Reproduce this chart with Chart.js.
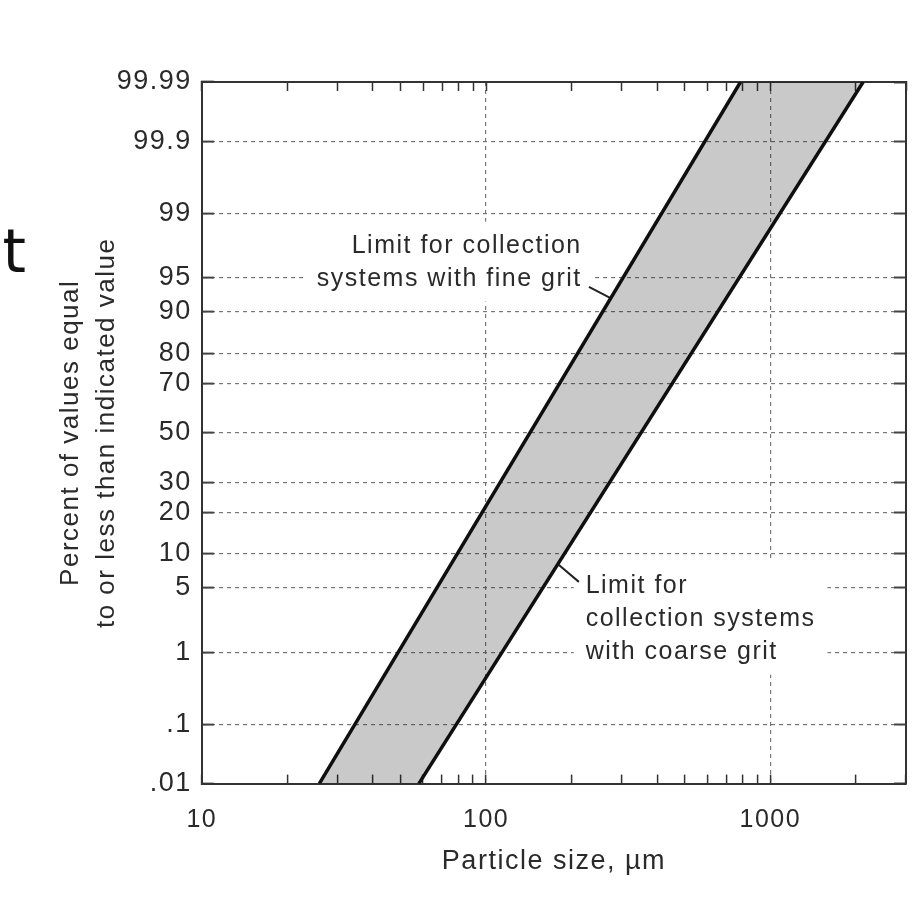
<!DOCTYPE html>
<html>
<head>
<meta charset="utf-8">
<style>
  body { margin: 0; background: #fff; }
  #wrap { position: relative; width: 914px; height: 904px; overflow: hidden; }
  #cut { position: absolute; right: 888px; top: 221px; font: 60px "DejaVu Sans"; line-height: 60px; white-space: nowrap; color: #111; }
</style>
</head>
<body>
<div id="wrap">
  <canvas id="gritChart" width="914" height="904"></canvas>
  <div id="cut">nt</div>
</div>

<script src="https://cdn.jsdelivr.net/npm/chart.js"></script>

<script>
  // particle size (um) at the chart's bottom and top percent
  const fineSize = [25.9, 785];
  const finePct = [0.01, 99.99];
  const coarseSize = [58, 2120];
  const coarsePct = [0.01, 99.99];

  // short leader lines from the labels to the two limits
  const fineLeaderSize = [230, 272];
  const fineLeaderPct = [93.9, 92.4];
  const coarseLeaderSize = [212, 180];
  const coarseLeaderPct = [5.7, 8.1];

  const pctTicks = [0.01, 0.1, 1, 5, 10, 20, 30, 50, 70, 80, 90, 95, 99, 99.9, 99.99];
  const pctLabels = ['.01', '.1', '1', '5', '10', '20', '30', '50', '70', '80', '90', '95', '99', '99.9', '99.99'];
  const sizeTicks = [10, 20, 30, 40, 50, 60, 70, 80, 90, 100, 200, 300, 400, 500, 600, 700, 800, 900, 1000, 2000, 3000];
  const sizeLabeled = [10, 100, 1000];

  const fineNote = ['Limit for collection', 'systems with fine grit'];
  const coarseNote = ['Limit for', 'collection systems', 'with coarse grit'];

  // inverse normal CDF (Acklam), used only to space the probability axis
  function probit(p) {
    const a = [-3.969683028665376e+01, 2.209460984245205e+02, -2.759285104469687e+02, 1.383577518672690e+02, -3.066479806614716e+01, 2.506628277459239e+00];
    const b = [-5.447609879822406e+01, 1.615858368580409e+02, -1.556989798598866e+02, 6.680131188771972e+01, -1.328068155288572e+01];
    const c = [-7.784894002430293e-03, -3.223964580411365e-01, -2.400758277161838e+00, -2.549732539343734e+00, 4.374664141464968e+00, 2.938163982698783e+00];
    const d = [7.784695709041462e-03, 3.224671290700398e-01, 2.445134137142996e+00, 3.754408661907416e+00];
    const pl = 0.02425;
    if (p < pl) {
      const q = Math.sqrt(-2 * Math.log(p));
      return (((((c[0]*q+c[1])*q+c[2])*q+c[3])*q+c[4])*q+c[5]) / ((((d[0]*q+d[1])*q+d[2])*q+d[3])*q+1);
    }
    if (p > 1 - pl) {
      const q = Math.sqrt(-2 * Math.log(1 - p));
      return -(((((c[0]*q+c[1])*q+c[2])*q+c[3])*q+c[4])*q+c[5]) / ((((d[0]*q+d[1])*q+d[2])*q+d[3])*q+1);
    }
    const q = p - 0.5, r = q * q;
    return (((((a[0]*r+a[1])*r+a[2])*r+a[3])*r+a[4])*r+a[5])*q / (((((b[0]*r+b[1])*r+b[2])*r+b[3])*r+b[4])*r+1);
  }

  class ProbabilityScale extends Chart.Scale {
    static id = 'probability';
    static defaults = {};
    determineDataLimits() {
      this.min = this.options.min;
      this.max = this.options.max;
    }
    buildTicks() {
      return pctTicks.map(v => ({ value: v }));
    }
    configure() {
      super.configure();
      this._zMin = probit(this.min / 100);
      this._zMax = probit(this.max / 100);
    }
    getLabelForValue(v) { return String(v); }
    getPixelForValue(v) {
      const z = probit(v / 100);
      return this.getPixelForDecimal((z - this._zMin) / (this._zMax - this._zMin));
    }
    getPixelForTick(i) { return this.getPixelForValue(this.ticks[i].value); }
    getValueForPixel() { return NaN; }
  }
  Chart.register(ProbabilityScale);

  Chart.defaults.font.family = '"Liberation Sans", Arial, sans-serif';
  Chart.defaults.color = '#2a2a2a';

  const pts = (xs, ys) => xs.map((x, i) => ({ x: x, y: ys[i] }));
  const noPad = (scale) => { scale.paddingLeft = 0; scale.paddingRight = 0; };

  // the scanned lettering is a bit wider than Arial
  const spacing = {
    id: 'spacing',
    beforeUpdate(chart) { chart.ctx.letterSpacing = '1.5px'; },
    beforeDraw(chart) { chart.ctx.letterSpacing = '1.5px'; }
  };

  const notes = [
    { lines: fineNote, x: 217, y: 97.2, align: 'right' },
    { lines: coarseNote, x: 224, y: 4.5, align: 'left' }
  ];

  const notePlugin = {
    id: 'notes',
    beforeDatasetsDraw(chart) {
      const ctx = chart.ctx;
      const xs = chart.scales.x, ys = chart.scales.y;
      ctx.save();
      ctx.font = '25px "Liberation Sans", Arial, sans-serif';
      ctx.letterSpacing = '1.5px';
      const lh = 33;
      notes.forEach(n => {
        const px = xs.getPixelForValue(n.x);
        const py = ys.getPixelForValue(n.y);
        const w = Math.max(...n.lines.map(t => ctx.measureText(t).width));
        const left = n.align === 'right' ? px - w : px;
        ctx.fillStyle = '#fff';
        ctx.fillRect(left - 12, py - 31, w + 24, (n.lines.length - 1) * lh + 47);
        ctx.fillStyle = '#2a2a2a';
        ctx.textAlign = n.align;
        ctx.textBaseline = 'alphabetic';
        n.lines.forEach((t, i) => ctx.fillText(t, px, py + i * lh));
      });
      ctx.restore();
    }
  };

  const ctx = document.getElementById('gritChart').getContext('2d');
  new Chart(ctx, {
    type: 'line',
    data: {
      datasets: [
        {
          label: 'band',
          data: pts(fineSize, finePct).concat(pts(coarseSize, coarsePct).reverse()),
          fill: 'shape',
          backgroundColor: 'rgba(0,0,0,0.21)',
          borderWidth: 0,
          pointRadius: 0
        },
        {
          label: 'fine grit',
          data: pts(fineSize, finePct),
          borderColor: '#111',
          borderWidth: 3.5,
          pointRadius: 0,
          fill: false
        },
        {
          label: 'coarse grit',
          data: pts(coarseSize, coarsePct),
          borderColor: '#111',
          borderWidth: 3.5,
          pointRadius: 0,
          fill: false
        },
        {
          label: 'fine leader',
          data: pts(fineLeaderSize, fineLeaderPct),
          borderColor: '#222',
          borderWidth: 2,
          pointRadius: 0,
          fill: false
        },
        {
          label: 'coarse leader',
          data: pts(coarseLeaderSize, coarseLeaderPct),
          borderColor: '#222',
          borderWidth: 2,
          pointRadius: 0,
          fill: false
        }
      ]
    },
    options: {
      responsive: false,
      animation: false,
      events: [],
      layout: { padding: { left: 23, top: 78, right: 8, bottom: 26 } },
      plugins: { legend: { display: false }, tooltip: { enabled: false } },
      scales: {
        x: {
          type: 'logarithmic',
          position: 'bottom',
          min: 10,
          max: 3000,
          afterBuildTicks: (scale) => { scale.ticks = sizeTicks.map(v => ({ value: v })); },
          afterFit: noPad,
          ticks: {
            autoSkip: false,
            maxRotation: 0,
            minRotation: 0,
            padding: 31,
            font: { size: 25 },
            callback: (v) => sizeLabeled.includes(v) ? String(v) : ''
          },
          grid: {
            color: (c) => (c.tick && (c.tick.value === 100 || c.tick.value === 1000)) ? '#777' : 'rgba(0,0,0,0)',
            lineWidth: 1.2,
            tickLength: -9,
            tickColor: '#333',
            tickWidth: 1.5
          },
          border: { color: '#333', width: 2, dash: [4, 4] },
          title: {
            display: true,
            text: 'Particle size, \u00b5m',
            font: { size: 27 },
            padding: { top: -21, bottom: 0 }
          }
        },
        x2: {
          type: 'logarithmic',
          position: 'top',
          min: 10,
          max: 3000,
          afterBuildTicks: (scale) => { scale.ticks = sizeTicks.map(v => ({ value: v })); },
          afterFit: noPad,
          ticks: { autoSkip: false, maxRotation: 0, font: { size: 5, lineHeight: 1 }, padding: 4, callback: () => '' },
          grid: { drawOnChartArea: false, tickLength: -9, tickColor: '#333', tickWidth: 1.5 },
          border: { color: '#333', width: 2 }
        },
        y: {
          type: 'probability',
          position: 'left',
          min: 0.01,
          max: 99.99,
          ticks: {
            padding: 22,
            font: { size: 27 },
            callback: (v, i) => pctLabels[i]
          },
          grid: {
            color: '#777',
            lineWidth: 1.2,
            tickLength: -12,
            tickColor: '#444',
            tickWidth: 2
          },
          border: { color: '#333', width: 2, dash: [4, 4] },
          title: {
            display: true,
            text: ['Percent of values equal', 'to or less than indicated value'],
            font: { size: 26, lineHeight: 1.38 },
            padding: { top: 30, bottom: -30 }
          }
        },
        y2: {
          type: 'probability',
          position: 'right',
          min: 0.01,
          max: 99.99,
          ticks: { font: { size: 5 }, padding: 0, callback: () => '' },
          grid: { drawOnChartArea: false, tickLength: -12, tickColor: '#444', tickWidth: 2 },
          border: { color: '#333', width: 2 }
        }
      }
    },
    plugins: [spacing, notePlugin]
  });
</script>
</body>
</html>
